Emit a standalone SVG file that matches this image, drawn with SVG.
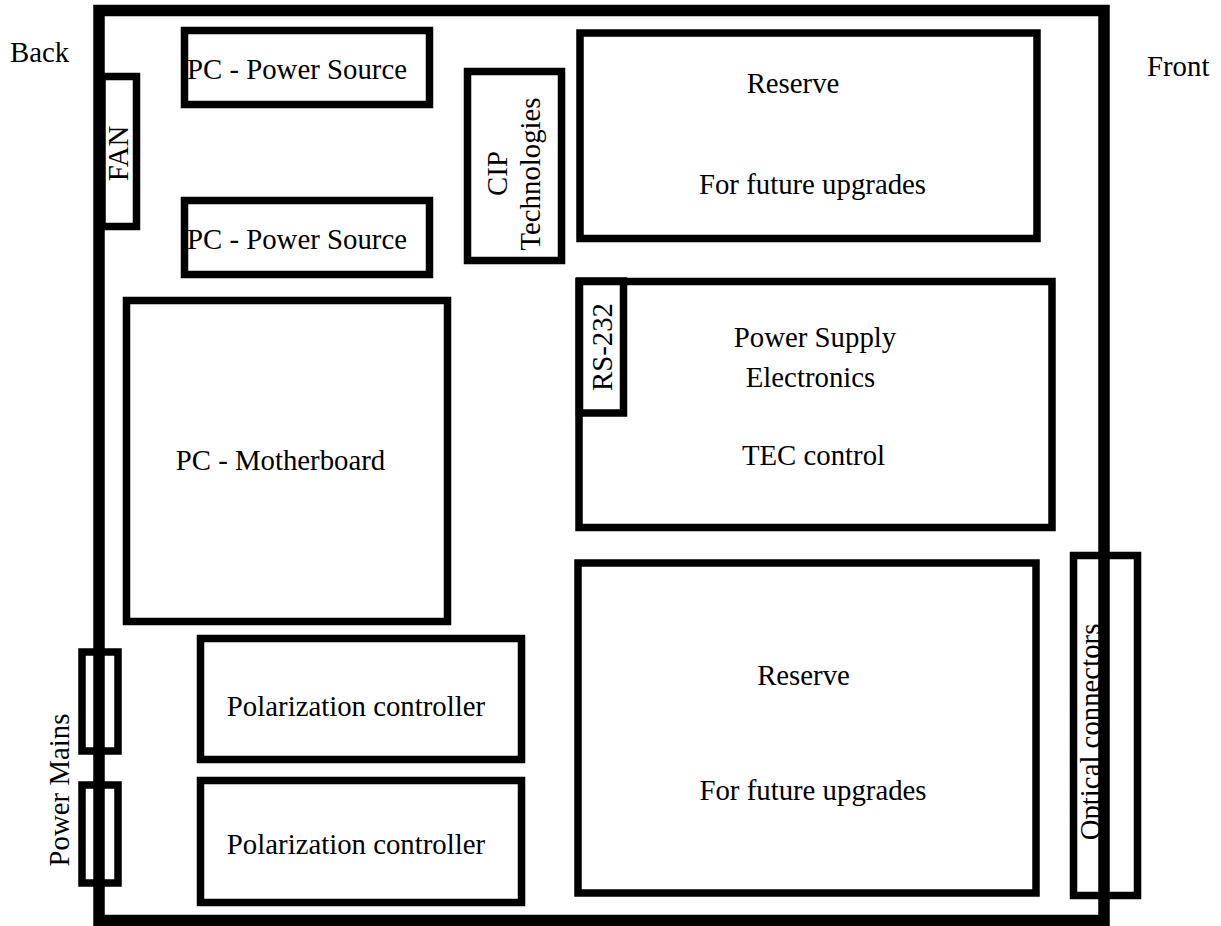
<svg xmlns="http://www.w3.org/2000/svg" width="1221" height="926" viewBox="0 0 1221 926">
<style>
.b{fill:none;stroke:#000;stroke-width:7.5}
.t{font-family:"Liberation Serif","Times New Roman",serif;font-size:28.8px;fill:#000}
.m{text-anchor:middle}
</style>
<rect width="1221" height="926" fill="#fff"/>
<g id="outer">
<rect x="99" y="10.5" width="1005" height="910" fill="none" stroke="#000" stroke-width="11.5"/>
</g>
<g id="labels">
<text class="t" x="10" y="62">Back</text>
<text class="t" x="1147" y="76">Front</text>
</g>
<g id="fan">
<rect class="b" x="102" y="76.5" width="34.5" height="150"/>
<text class="t m" transform="translate(128,153.5) rotate(-90)">FAN</text>
</g>
<g id="psu1">
<rect class="b" x="184.5" y="30.5" width="245" height="74"/>
<text class="t" x="187" y="79">PC - Power Source</text>
</g>
<g id="psu2">
<rect class="b" x="184.5" y="200.5" width="245" height="74"/>
<text class="t" x="187" y="249">PC - Power Source</text>
</g>
<g id="cip">
<rect class="b" x="467.5" y="71.5" width="94" height="189"/>
<text class="t m" transform="translate(507,173.5) rotate(-90)">CIP</text>
<text class="t m" transform="translate(540,174) rotate(-90)">Technologies</text>
</g>
<g id="reserve1">
<rect class="b" x="580" y="33" width="457" height="205.5"/>
<text class="t m" x="793" y="93">Reserve</text>
<text class="t m" x="812.5" y="194">For future upgrades</text>
</g>
<g id="motherboard">
<rect class="b" x="126.5" y="300.5" width="321" height="321"/>
<text class="t m" x="280.5" y="470">PC - Motherboard</text>
</g>
<g id="powersupply">
<rect class="b" x="579" y="281.5" width="473" height="246"/>
<text class="t m" x="815" y="347">Power Supply</text>
<text class="t m" x="810.5" y="387">Electronics</text>
<text class="t m" x="813.5" y="465">TEC control</text>
</g>
<g id="rs232">
<rect class="b" x="579.5" y="281" width="44" height="132"/>
<text class="t m" transform="translate(612,347) rotate(-90)">RS-232</text>
</g>
<g id="polctrl1">
<rect class="b" x="200.5" y="638.5" width="321" height="121"/>
<text class="t m" x="356" y="716">Polarization controller</text>
</g>
<g id="polctrl2">
<rect class="b" x="200.5" y="780.5" width="321" height="122"/>
<text class="t m" x="356" y="854">Polarization controller</text>
</g>
<g id="reserve2">
<rect class="b" x="578" y="563" width="458" height="330"/>
<text class="t m" x="803.5" y="685">Reserve</text>
<text class="t m" x="813" y="800">For future upgrades</text>
</g>
<g id="powermains">
<rect class="b" x="82" y="652" width="36" height="99"/>
<rect class="b" x="82" y="785" width="36" height="98"/>
<text class="t m" transform="translate(69,790) rotate(-90)">Power Mains</text>
</g>
<g id="optical">
<rect class="b" x="1073.5" y="555.5" width="64" height="340"/>
<text class="t m" transform="translate(1100,732) rotate(-90)">Optical connectors</text>
</g>
<g id="connectors"></g>
</svg>
